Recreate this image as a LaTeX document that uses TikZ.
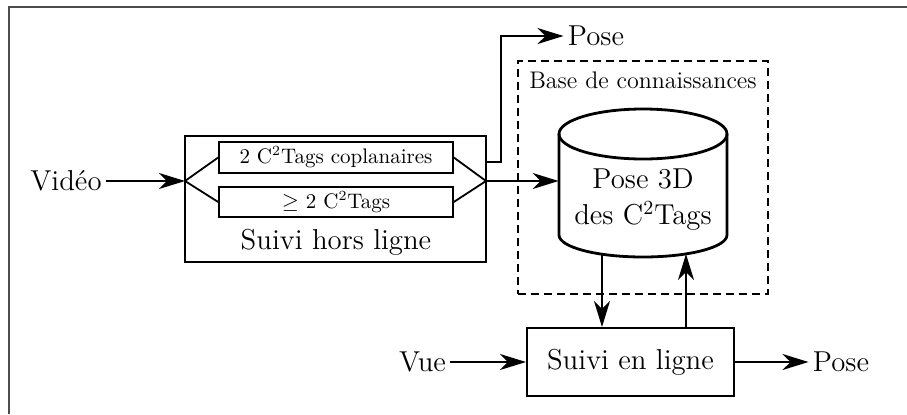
\documentclass[tikz,border=0pt]{standalone}
\usetikzlibrary{arrows.meta}
\begin{document}
\begin{tikzpicture}[x=0.5pt,y=-0.5pt,
  big/.style={font=\fontsize{14.4}{18}\selectfont},
  med/.style={font=\fontsize{12}{14}\selectfont},
  sml/.style={font=\fontsize{10.5}{12.5}\selectfont},
  arr/.style={-{Stealth[length=13pt,width=8pt,inset=4pt]}, line width=0.9pt},
  ln/.style={line width=0.9pt},
  lbl/.style={big, inner sep=2pt},
  outerbox/.style={draw, line width=1pt, inner sep=0pt},
  innerbox/.style={draw, line width=0.8pt, inner sep=0pt, minimum width=117pt, sml},
  kbbox/.style={draw, dash pattern=on 4pt off 2.5pt, line width=0.75pt, inner sep=0pt, minimum width=125pt, minimum height=116.5pt},
  cylline/.style={line width=1.4pt}
]
\useasboundingbox (0,0) rectangle (907,414);
% frame
\draw[gray!60!black, line width=1pt] (9,414) -- (9,7) -- (907,7);

% offline tracking block
\node[outerbox, minimum width=150.5pt, minimum height=63pt] (hors) at (335.5,199) {};
\node[innerbox, minimum height=15.5pt] (b1) at (336,157.5) {2 C$^2$Tags coplanaires};
\node[innerbox, minimum height=15pt] (b2) at (336,202) {$\geq$ 2 C$^2$Tags};
\node[big] (horslbl) at (336,242) {Suivi hors ligne};
\coordinate (jL) at (185,181);
\coordinate (jR) at (486,181);
\coordinate (o1) at (486,162);
\draw[ln] (jL) -- (b1.west);
\draw[ln] (jL) -- (b2.west);
\draw[ln] (b1.east) -- (jR);
\draw[ln] (b2.east) -- (jR);

% video input
\node[lbl] (vid) at (66,181) {Vidéo};
\draw[arr] (vid.east) -- (jL);

% top pose output
\node[lbl] (poseT) at (596,36) {Pose};
\coordinate (t1) at (501,162);
\coordinate (t2) at (501,36);
\draw[arr] (o1) -- (t1) -- (t2) -- (poseT.west);

% knowledge base
\node[kbbox] (kb) at (643,177.5) {};
\node[med] (kblbl) at (643,80) {Base de connaissances};

% cylinder
\node[minimum width=84pt, minimum height=74pt, inner sep=0pt] (cyl) at (643,183) {};
\draw[cylline] (643,134) ellipse [x radius=42pt, y radius=12.5pt];
\draw[cylline] (559,134) -- (559,235) arc[start angle=180, end angle=360, x radius=42pt, y radius=11pt] -- (727,134);
\node[big, align=center] (cyltxt) at (643,200) {Pose 3D\\des C$^2$Tags};
\draw[arr] (jR) -- (jR -| cyl.west);

% online tracking
\node[outerbox, minimum width=103.5pt, minimum height=34pt, big] (onl) at (630.5,362) {Suivi en ligne};
\node[lbl] (vue) at (422.5,362) {Vue};
\node[lbl] (poseR) at (841,362) {Pose};
\draw[arr] (vue.east) -- (onl.west);
\draw[arr] (onl.east) -- (poseR.west);
\coordinate (cd) at (602,254.5);
\coordinate (cu) at (686,254);
\draw[arr] (cd) -- (cd |- onl.north);
\draw[arr] (cu |- onl.north) -- (cu);
\end{tikzpicture}
\end{document}
